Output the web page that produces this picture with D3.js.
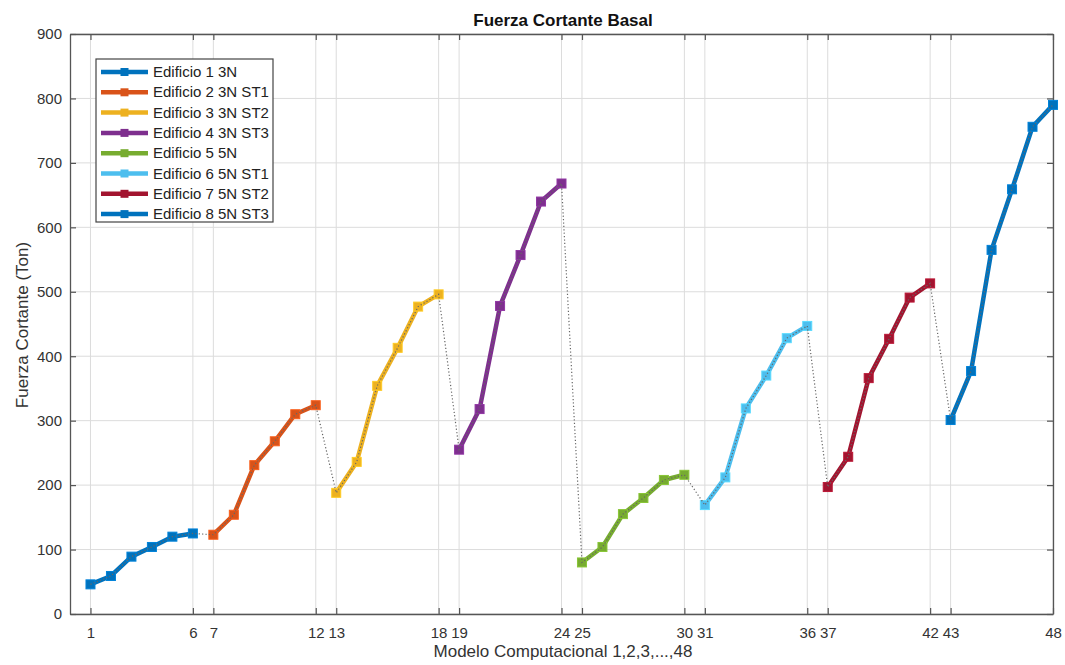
<!DOCTYPE html>
<html>
<head>
<meta charset="utf-8">
<script src="https://cdn.jsdelivr.net/npm/d3@7"></script>
<style>
  body { margin: 0; background: #fff; }
  svg { display: block; font-family: "Liberation Sans", Arial, sans-serif; }
</style>
</head>
<body>
<svg id="chart"></svg>
<script>
// series names and colours (MATLAB default order)
const names = ["Edificio 1 3N", "Edificio 2 3N ST1", "Edificio 3 3N ST2", "Edificio 4 3N ST3",
               "Edificio 5 5N", "Edificio 6 5N ST1", "Edificio 7 5N ST2", "Edificio 8 5N ST3"];
const colors = ["#0072BD", "#D95319", "#EDB120", "#7E2F8E", "#77AC30", "#4DBEEE", "#A2142F", "#0072BD"];

// base shear per building, models 1..48 (6 per building)
const ed1 = [46, 59, 89, 104, 120, 125];
const ed2 = [123, 154, 231, 268, 310, 324];
const ed3 = [188, 236, 354, 413, 477, 496];
const ed4 = [255, 318, 478, 557, 640, 668];
const ed5 = [80, 104, 155, 180, 208, 216];
const ed6 = [169, 212, 319, 370, 428, 447];
const ed7 = [197, 244, 366, 427, 491, 513];
const ed8 = [301, 377, 565, 659, 756, 790];
const seriesValues = [ed1, ed2, ed3, ed4, ed5, ed6, ed7, ed8];

const xTicks = [1, 6, 7, 12, 13, 18, 19, 24, 25, 30, 31, 36, 37, 42, 43, 48];
const yTicks = [0, 100, 200, 300, 400, 500, 600, 700, 800, 900];

const W = 1065, H = 665;
const margin = {top: 34, right: 12, bottom: 51, left: 70};
const width = W - margin.left - margin.right;
const height = H - margin.top - margin.bottom;

const svg = d3.select("#chart").attr("width", W).attr("height", H);
const g = svg.append("g").attr("transform", `translate(${margin.left},${margin.top})`);

const x = d3.scaleLinear().domain([0, 48]).range([0, width]);
const y = d3.scaleLinear().domain([0, 900]).range([height, 0]);

// grid
g.append("g").selectAll("line").data(xTicks).join("line")
  .attr("x1", d => x(d)).attr("x2", d => x(d)).attr("y1", 0).attr("y2", height)
  .attr("stroke", "#dcdcdc").attr("stroke-width", 1);
g.append("g").selectAll("line").data(yTicks).join("line")
  .attr("x1", 0).attr("x2", width).attr("y1", d => y(d)).attr("y2", d => y(d))
  .attr("stroke", "#dcdcdc").attr("stroke-width", 1);

// axes (MATLAB style: inward ticks, box on)
const axColor = "#555";
const tickLen = 6;
const xAx = g.append("g").attr("transform", `translate(0,${height})`)
  .call(d3.axisBottom(x).tickValues(xTicks).tickSize(-tickLen).tickPadding(13).tickSizeOuter(0));
const yAx = g.append("g")
  .call(d3.axisLeft(y).tickValues(yTicks).tickSize(-tickLen).tickPadding(8).tickSizeOuter(0));
const xTop = g.append("g")
  .call(d3.axisTop(x).tickValues(xTicks).tickSize(-tickLen).tickFormat("").tickSizeOuter(0));
const yRight = g.append("g").attr("transform", `translate(${width},0)`)
  .call(d3.axisRight(y).tickValues(yTicks).tickSize(-tickLen).tickFormat("").tickSizeOuter(0));
[xAx, yAx, xTop, yRight].forEach(a => {
  a.select(".domain").attr("stroke", axColor).attr("stroke-width", 1.3);
  a.selectAll(".tick line").attr("stroke", axColor).attr("stroke-width", 1.2);
  a.selectAll(".tick text").attr("fill", "#333").attr("font-size", 15);
});

// data
const all = [];
seriesValues.forEach((vals, i) => {
  vals.forEach((v, j) => all.push({m: i * 6 + j + 1, v: v, s: i}));
});

const line = d3.line().x(d => x(d.m)).y(d => y(d.v));

seriesValues.forEach((vals, i) => {
  const pts = all.filter(d => d.s === i);
  g.append("path").datum(pts).attr("d", line)
    .attr("fill", "none").attr("stroke", colors[i]).attr("stroke-width", 4.5)
    .attr("stroke-linejoin", "round");
  g.append("g").selectAll("rect").data(pts).join("rect")
    .attr("x", d => x(d.m) - 4.5).attr("y", d => y(d.v) - 4.5)
    .attr("width", 9).attr("height", 9)
    .attr("fill", colors[i]).attr("stroke", d3.color(colors[i]).brighter(0.4)).attr("stroke-width", 1);
});

// dotted connector across all models
g.append("path").datum(all).attr("d", line)
  .attr("fill", "none").attr("stroke", "#666").attr("stroke-width", 1.2)
  .attr("stroke-dasharray", "1.2,2.2");

// legend
const lg = svg.append("g").attr("transform", "translate(96,59)");
lg.append("rect").attr("width", 177).attr("height", 163)
  .attr("fill", "#fff").attr("stroke", "#444").attr("stroke-width", 1.2);
names.forEach((n, i) => {
  const yy = 13 + i * 20.3;
  lg.append("line").attr("x1", 5).attr("x2", 52).attr("y1", yy).attr("y2", yy)
    .attr("stroke", colors[i]).attr("stroke-width", 4.5);
  lg.append("rect").attr("x", 24.5).attr("y", yy - 4).attr("width", 8).attr("height", 8)
    .attr("fill", colors[i]);
  lg.append("text").attr("x", 57).attr("y", yy + 5).text(n)
    .attr("font-size", 15).attr("fill", "#222");
});

// titles
svg.append("text").attr("x", 563).attr("y", 26).attr("text-anchor", "middle")
  .attr("font-size", 17).attr("font-weight", "bold").attr("fill", "#111")
  .text("Fuerza Cortante Basal");
svg.append("text").attr("x", 563).attr("y", 657).attr("text-anchor", "middle")
  .attr("font-size", 17).attr("fill", "#333")
  .text("Modelo Computacional 1,2,3,...,48");
svg.append("text").attr("transform", "translate(28,325) rotate(-90)")
  .attr("text-anchor", "middle").attr("font-size", 17).attr("fill", "#333")
  .text("Fuerza Cortante (Ton)");
</script>
</body>
</html>
